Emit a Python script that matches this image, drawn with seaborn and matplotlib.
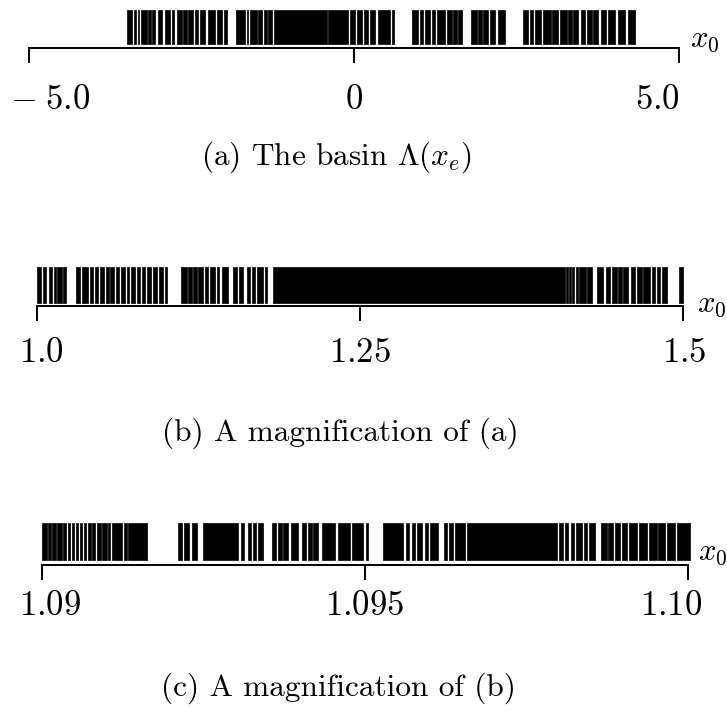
import matplotlib
matplotlib.use("Agg")
import matplotlib.pyplot as plt
from matplotlib.transforms import ScaledTranslation
import seaborn as sns

# ---- data: black intervals (start, end) of the basin in x0 ----
basin_a = [(-3.497, -3.411), (-3.385, -3.358), (-3.328, -3.303), (-3.277, -3.189),
           (-3.165, -3.123), (-3.103, -3.062), (-3.011, -2.958), (-2.908, -2.831),
           (-2.805, -2.765), (-2.728, -2.651), (-2.626, -2.574), (-2.549, -2.472),
           (-2.446, -2.395), (-2.369, -2.292), (-2.242, -2.138), (-2.112, -2.035),
           (-1.995, -1.958), (-1.820, -1.677), (-1.651, -1.626), (-1.600, -1.497),
           (-1.472, -1.420), (-1.380, -1.343), (-1.318, -1.266), (-1.226, -0.420),
           (-0.395, -0.088), (-0.062, 0.015), (0.042, 0.118), (0.158, 0.220),
           (0.246, 0.323), (0.374, 0.554), (0.577, 0.608), (0.892, 0.985),
           (1.015, 1.062), (1.092, 1.169), (1.200, 1.246), (1.277, 1.400),
           (1.431, 1.508), (1.523, 1.585), (1.600, 1.662), (1.800, 1.892),
           (1.908, 1.969), (1.992, 2.062), (2.092, 2.169), (2.215, 2.323),
           (2.600, 2.677), (2.708, 2.754), (2.785, 2.877), (2.908, 3.031),
           (3.046, 3.138), (3.169, 3.277), (3.292, 3.354), (3.369, 3.446),
           (3.492, 3.554), (3.585, 3.662), (3.677, 3.754), (3.800, 3.877),
           (3.908, 4.015), (4.062, 4.169), (4.215, 4.323)]

basin_b = [(1.0002, 1.0029), (1.0049, 1.0067), (1.0095, 1.0116), (1.0132, 1.0147),
           (1.0157, 1.0191), (1.0204, 1.0224), (1.0302, 1.0333), (1.0346, 1.0397),
           (1.0410, 1.0436), (1.0449, 1.0474), (1.0488, 1.0519), (1.0534, 1.0555),
           (1.0565, 1.0596), (1.0611, 1.0637), (1.0648, 1.0681), (1.0694, 1.0714),
           (1.0725, 1.0759), (1.0772, 1.0797), (1.0810, 1.0836), (1.0849, 1.0880),
           (1.0900, 1.0931), (1.0947, 1.0978), (1.0991, 1.1009), (1.1112, 1.1159),
           (1.1171, 1.1197), (1.1210, 1.1236), (1.1248, 1.1287), (1.1300, 1.1326),
           (1.1339, 1.1378), (1.1391, 1.1411), (1.1430, 1.1481), (1.1519, 1.1546),
           (1.1566, 1.1597), (1.1623, 1.1649), (1.1662, 1.1687), (1.1700, 1.1752),
           (1.1765, 1.1782), (1.1829, 1.4087), (1.4092, 1.4108), (1.4118, 1.4133),
           (1.4143, 1.4159), (1.4169, 1.4184), (1.4195, 1.4247), (1.4259, 1.4298),
           (1.4332, 1.4383), (1.4402, 1.4435), (1.4448, 1.4487), (1.4499, 1.4526),
           (1.4538, 1.4577), (1.4598, 1.4628), (1.4642, 1.4680), (1.4693, 1.4745),
           (1.4758, 1.4783), (1.4796, 1.4822), (1.4835, 1.4874), (1.4969, 1.5002)]

basin_c = [(1.090005, 1.090073), (1.090098, 1.090139), (1.090159, 1.090212),
           (1.090232, 1.090305), (1.090330, 1.090367), (1.090398, 1.090433),
           (1.090460, 1.090500), (1.090522, 1.090562), (1.090588, 1.090624),
           (1.090655, 1.090676), (1.090717, 1.090759), (1.090779, 1.090820),
           (1.090847, 1.090913), (1.090924, 1.091002), (1.091017, 1.091053),
           (1.091079, 1.091243), (1.091274, 1.091311), (1.091336, 1.091621),
           (1.092110, 1.092163), (1.092203, 1.092276), (1.092317, 1.092395),
           (1.092497, 1.093039), (1.093080, 1.093132), (1.093184, 1.093235),
           (1.093271, 1.093308), (1.093339, 1.093426), (1.093565, 1.093618),
           (1.093649, 1.093711), (1.093735, 1.093813), (1.093854, 1.093968),
           (1.094020, 1.094082), (1.094113, 1.094175), (1.094200, 1.094277),
           (1.094330, 1.094536), (1.094577, 1.094768), (1.094794, 1.094974),
           (1.095015, 1.095051), (1.095283, 1.095593), (1.095635, 1.095686),
           (1.095723, 1.095774), (1.095810, 1.095878), (1.095929, 1.095980),
           (1.096006, 1.096135), (1.096223, 1.096274), (1.096305, 1.096358),
           (1.096393, 1.096548), (1.096584, 1.097967), (1.098008, 1.098060),
           (1.098096, 1.098147), (1.098184, 1.098235), (1.098266, 1.098354),
           (1.098390, 1.098432), (1.098472, 1.098560), (1.098649, 1.098741),
           (1.098766, 1.098844), (1.098870, 1.098947), (1.098974, 1.099051),
           (1.099091, 1.099206), (1.099246, 1.099370), (1.099401, 1.099515),
           (1.099540, 1.099644), (1.099670, 1.099799), (1.099825, 1.100031)]

ticks_a = [-5.0, 0.0, 5.0]
labels_a = [r"$-\;5.0$", r"$0$", r"$5.0$"]
ticks_b = [1.0, 1.25, 1.5]
labels_b = [r"$1.0$", r"$1.25$", r"$1.5$"]
ticks_c = [1.09, 1.095, 1.10]
labels_c = [r"$1.09$", r"$1.095$", r"$1.10$"]
captions = [r"(a) The basin $\Lambda(x_e)$",
            r"(b) A magnification of (a)",
            r"(c) A magnification of (b)"]

sns.set_theme(style="white")
plt.rcParams["mathtext.fontset"] = "cm"
plt.rcParams["font.family"] = ["cmr10", "DejaVu Serif"]
plt.rcParams["axes.formatter.use_mathtext"] = True

W, H = 727, 711
fig = plt.figure(figsize=(W / 100, H / 100), dpi=100)


def px_axes(x0, x1, ytop, yspine):
    return fig.add_axes([x0 / W, 1 - yspine / H, (x1 - x0) / W, (yspine - ytop) / H])


panels = [
    dict(data=basin_a, xpx=(29, 679), ytop=10, yspine=48, ybar=44, ticks=ticks_a,
         labels=labels_a, lim=(-5.0, 5.0), pad=15, offs=[21, 0, -22],
         x0lab=(690, 40), cap=(337, 157)),
    dict(data=basin_b, xpx=(37, 683), ytop=267, yspine=306, ybar=303, ticks=ticks_b,
         labels=labels_b, lim=(1.0, 1.5), pad=11.5, offs=[4, 0, 1],
         x0lab=(697, 305), cap=(340, 433)),
    dict(data=basin_c, xpx=(42, 688), ytop=523, yspine=565, ybar=560, ticks=ticks_c,
         labels=labels_c, lim=(1.09, 1.10), pad=7, offs=[8, 0, -17],
         x0lab=(698, 553), cap=(338, 688)),
]

for i, p in enumerate(panels):
    ax = px_axes(p["xpx"][0], p["xpx"][1], p["ytop"], p["yspine"])
    hpx = p["yspine"] - p["ytop"]
    y0 = (p["yspine"] - p["ybar"]) / hpx
    segs = [(s, e - s) for s, e in p["data"]]
    ax.broken_barh(segs, (y0, 1 - y0), facecolors="black", edgecolors="black",
                   linewidths=0.5, clip_on=False)
    ax.set_xlim(*p["lim"])
    ax.set_ylim(0, 1)
    ax.set_facecolor("none")
    for side in ("left", "right", "top"):
        ax.spines[side].set_visible(False)
    ax.spines["bottom"].set_linewidth(1.4)
    ax.spines["bottom"].set_color("black")
    ax.set_yticks([])
    ax.set_xticks(p["ticks"])
    ax.set_xticklabels(p["labels"], fontsize=25)
    ax.tick_params(axis="x", direction="out", length=11, width=1.4, color="black",
                   pad=p["pad"], bottom=True, labelcolor="black")
    for lab, dx in zip(ax.get_xticklabels(), p["offs"]):
        lab.set_transform(lab.get_transform() + ScaledTranslation(dx / 100, 0, fig.dpi_scale_trans))
    fig.text(p["x0lab"][0] / W, 1 - p["x0lab"][1] / H, r"$x_0$", fontsize=22,
             ha="left", va="center", color="black")
    fig.text(p["cap"][0] / W, 1 - p["cap"][1] / H, captions[i],
             fontsize=22.5, ha="center", va="center", color="black")

fig.savefig("out.png", dpi=100, facecolor="white")
